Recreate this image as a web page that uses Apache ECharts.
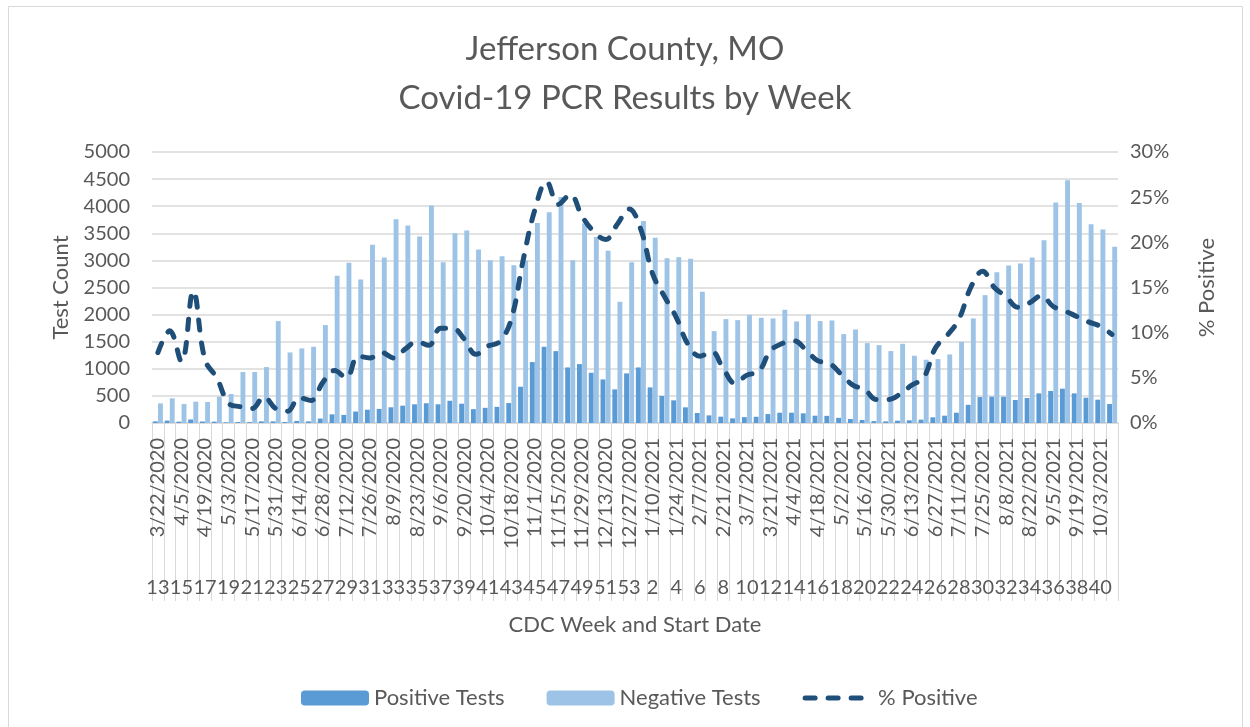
<!DOCTYPE html>
<html>
<head>
<meta charset="utf-8">
<title>Jefferson County, MO - Covid-19 PCR Results by Week</title>
<script src="https://cdn.jsdelivr.net/npm/echarts@6.0.0/dist/echarts.min.js"></script>
<style>
  html, body { margin: 0; padding: 0; background: #fff; }
  #chart { width: 1250px; height: 727px; }
</style>
</head>
<body>
<div id="chart"></div>
<script>
// week start dates (inner label row)
const weekDates = [
  '3/22/2020', '3/29/2020', '4/5/2020', '4/12/2020', '4/19/2020', '4/26/2020', '5/3/2020', '5/10/2020',
  '5/17/2020', '5/24/2020', '5/31/2020', '6/7/2020', '6/14/2020', '6/21/2020', '6/28/2020', '7/5/2020',
  '7/12/2020', '7/19/2020', '7/26/2020', '8/2/2020', '8/9/2020', '8/16/2020', '8/23/2020', '8/30/2020',
  '9/6/2020', '9/13/2020', '9/20/2020', '9/27/2020', '10/4/2020', '10/11/2020', '10/18/2020', '10/25/2020',
  '11/1/2020', '11/8/2020', '11/15/2020', '11/22/2020', '11/29/2020', '12/6/2020', '12/13/2020', '12/20/2020',
  '12/27/2020', '1/3/2021', '1/10/2021', '1/17/2021', '1/24/2021', '1/31/2021', '2/7/2021', '2/14/2021',
  '2/21/2021', '2/28/2021', '3/7/2021', '3/14/2021', '3/21/2021', '3/28/2021', '4/4/2021', '4/11/2021',
  '4/18/2021', '4/25/2021', '5/2/2021', '5/9/2021', '5/16/2021', '5/23/2021', '5/30/2021', '6/6/2021',
  '6/13/2021', '6/20/2021', '6/27/2021', '7/4/2021', '7/11/2021', '7/18/2021', '7/25/2021', '8/1/2021',
  '8/8/2021', '8/15/2021', '8/22/2021', '8/29/2021', '9/5/2021', '9/12/2021', '9/19/2021', '9/26/2021',
  '10/3/2021', '10/10/2021'
]

// CDC week numbers (outer label row)
const cdcWeeks = [
  '13', '14', '15', '16', '17', '18', '19', '20', '21', '22', '23', '24', '25', '26', '27', '28',
  '29', '30', '31', '32', '33', '34', '35', '36', '37', '38', '39', '40', '41', '42', '43', '44',
  '45', '46', '47', '48', '49', '50', '51', '52', '53', '1', '2', '3', '4', '5', '6', '7',
  '8', '9', '10', '11', '12', '13', '14', '15', '16', '17', '18', '19', '20', '21', '22', '23',
  '24', '25', '26', '27', '28', '29', '30', '31', '32', '33', '34', '35', '36', '37', '38', '39',
  '40', '41'
]

const positiveTests = [
  30, 45, 25, 65, 28, 25, 12, 17, 15, 30,
  30, 18, 38, 30, 82, 160, 150, 212, 245, 260,
  290, 320, 345, 365, 345, 410, 356, 255, 280, 298,
  368, 669, 1124, 1406, 1326, 1025, 1087, 927, 804, 620,
  915, 1025, 657, 498, 418, 289, 184, 141, 117, 85,
  108, 115, 165, 190, 190, 178, 135, 132, 95, 74,
  56, 35, 30, 42, 50, 62, 105, 135, 190, 335,
  479, 485, 485, 424, 461, 547, 590, 633, 547, 467,
  430, 350
]

const negativeTests = [
  362, 455, 350, 393, 387, 485, 535, 940, 940, 1032,
  1880, 1302, 1376, 1407, 1806, 2715, 2955, 2648, 3287, 3053,
  3760, 3643, 3440, 4011, 2967, 3502, 3551, 3200, 3004, 3078,
  2912, 3000, 3692, 3888, 4171, 3004, 3680, 3434, 3176, 2236,
  2967, 3729, 3416, 3041, 3059, 3029, 2420, 1695, 1917, 1898,
  1996, 1941, 1929, 2089, 1874, 2003, 1880, 1892, 1640, 1726,
  1474, 1437, 1327, 1462, 1241, 1167, 1179, 1265, 1499, 1929,
  2359, 2783, 2906, 2942, 3053, 3372, 4067, 4478, 4061, 3667,
  3569, 3250
]

// % positive
const pctPositive = [
  7.8, 10.2, 6.8, 14.6, 7.0, 5.0, 2.2, 1.8, 1.6, 2.9,
  1.6, 1.3, 2.8, 2.5, 4.5, 5.8, 5.0, 7.4, 7.2, 7.8,
  7.2, 8.2, 9.0, 8.6, 10.5, 10.5, 9.3, 7.6, 8.5, 9.0,
  11.5, 18.0, 23.6, 26.7, 24.2, 25.3, 22.9, 21.2, 20.3, 22.0,
  23.7, 21.4, 16.5, 14.0, 11.7, 8.7, 7.4, 7.9, 6.0, 4.4,
  5.3, 5.7, 8.0, 8.8, 9.1, 8.1, 6.9, 6.6, 5.4, 4.2,
  3.7, 2.6, 2.6, 3.2, 4.2, 5.0, 8.3, 9.7, 11.5, 15.0,
  16.8, 15.0, 14.0, 12.8, 13.3, 14.1, 12.9, 12.4, 11.8, 11.2,
  10.7, 9.8
]

const countTicks = [0, 500, 1000, 1500, 2000, 2500, 3000, 3500, 4000, 4500, 5000]
const pctTicks = [0, 5, 10, 15, 20, 25, 30]

const textColor = '#595959'
const gridColor = '#d9d9d9'
const lineColor = '#1f4e79'
const font = 'Lato'

const myChart = echarts.init(document.getElementById('chart'))

// long rounded dashes like the excel "dash" style
const dashStyle = { color: lineColor, width: 5, type: [10, 13], cap: 'round' }

const option = {
  animation: false,
  backgroundColor: '#fff',
  textStyle: { fontFamily: font },
  title: {
    text: 'Jefferson County, MO\nCovid-19 PCR Results by Week',
    left: 'center',
    top: 20,
    textStyle: {
      fontFamily: font,
      fontSize: 33,
      fontWeight: 'normal',
      color: textColor,
      lineHeight: 49,
    },
  },
  legend: {
    left: 296,
    top: 682,
    itemWidth: 68,
    itemHeight: 15,
    itemGap: 42,
    textStyle: { fontFamily: font, fontSize: 22, color: textColor },
    data: [
      'Positive Tests',
      'Negative Tests',
      { name: '% Positive', itemStyle: { opacity: 0 }, lineStyle: dashStyle },
    ],
  },
  grid: {
    left: 152,
    right: 132,
    top: 152,
    bottom: 304,
    outerBoundsMode: 'none',
  },
  xAxis: [
    {
      type: 'category',
      data: weekDates,
      boundaryGap: true,
      axisLine: { lineStyle: { color: gridColor, width: 1.5 } },
      axisTick: {
        show: true,
        interval: 0,
        length: 178,
        lineStyle: { color: gridColor, width: 1 },
      },
      axisLabel: {
        interval: 1,
        rotate: 90,
        margin: 15,
        fontFamily: font,
        fontSize: 20,
        color: textColor,
      },
    },
    {
      type: 'category',
      data: cdcWeeks,
      position: 'bottom',
      offset: 150,
      boundaryGap: true,
      axisLine: { show: false },
      axisTick: { show: false },
      axisLabel: {
        interval: 1,
        margin: 5,
        fontFamily: font,
        fontSize: 20,
        color: textColor,
      },
      name: 'CDC Week and Start Date',
      nameLocation: 'middle',
      nameGap: 41,
      nameTextStyle: { fontFamily: font, fontSize: 22, color: textColor },
    },
  ],
  yAxis: [
    {
      type: 'value',
      min: countTicks[0],
      max: countTicks[countTicks.length - 1],
      interval: 500,
      name: 'Test Count',
      nameLocation: 'middle',
      nameGap: 80,
      nameRotate: 90,
      nameTextStyle: { fontFamily: font, fontSize: 22, color: textColor },
      axisLine: { show: false },
      axisTick: { show: false },
      axisLabel: {
        margin: 22,
        fontFamily: font,
        fontSize: 20,
        color: textColor,
        formatter: (v) => String(v),
      },
      splitLine: { lineStyle: { color: gridColor, width: 1.5 } },
    },
    {
      type: 'value',
      position: 'right',
      min: pctTicks[0],
      max: pctTicks[pctTicks.length - 1],
      interval: 5,
      name: '% Positive',
      nameLocation: 'middle',
      nameGap: 78,
      nameRotate: 90,
      nameTextStyle: { fontFamily: font, fontSize: 22, color: textColor },
      axisLine: { show: false },
      axisTick: { show: false },
      axisLabel: {
        margin: 12,
        fontFamily: font,
        fontSize: 20,
        color: textColor,
        formatter: '{value}%',
      },
      splitLine: { show: false },
    },
  ],
  series: [
    {
      name: 'Positive Tests',
      type: 'bar',
      xAxisIndex: 0,
      yAxisIndex: 0,
      barCategoryGap: '15%',
      barGap: '5%',
      itemStyle: { color: '#5b9bd5' },
      data: positiveTests,
    },
    {
      name: 'Negative Tests',
      type: 'bar',
      xAxisIndex: 0,
      yAxisIndex: 0,
      barCategoryGap: '15%',
      barGap: '5%',
      itemStyle: { color: '#9dc3e6' },
      data: negativeTests,
    },
    {
      name: '% Positive',
      type: 'line',
      xAxisIndex: 0,
      yAxisIndex: 1,
      smooth: 0.4,
      symbol: 'none',
      showSymbol: false,
      z: 5,
      lineStyle: dashStyle,
      itemStyle: { color: lineColor },
      data: pctPositive,
    },
  ],
  graphic: [
    {
      // chart area border
      type: 'rect',
      shape: { x: 8.5, y: 6.5, width: 1234, height: 740 },
      style: { fill: 'none', stroke: gridColor, lineWidth: 1 },
      silent: true,
    },
  ],
}

myChart.setOption(option)
window.onresize = myChart.resize
</script>
</body>
</html>
